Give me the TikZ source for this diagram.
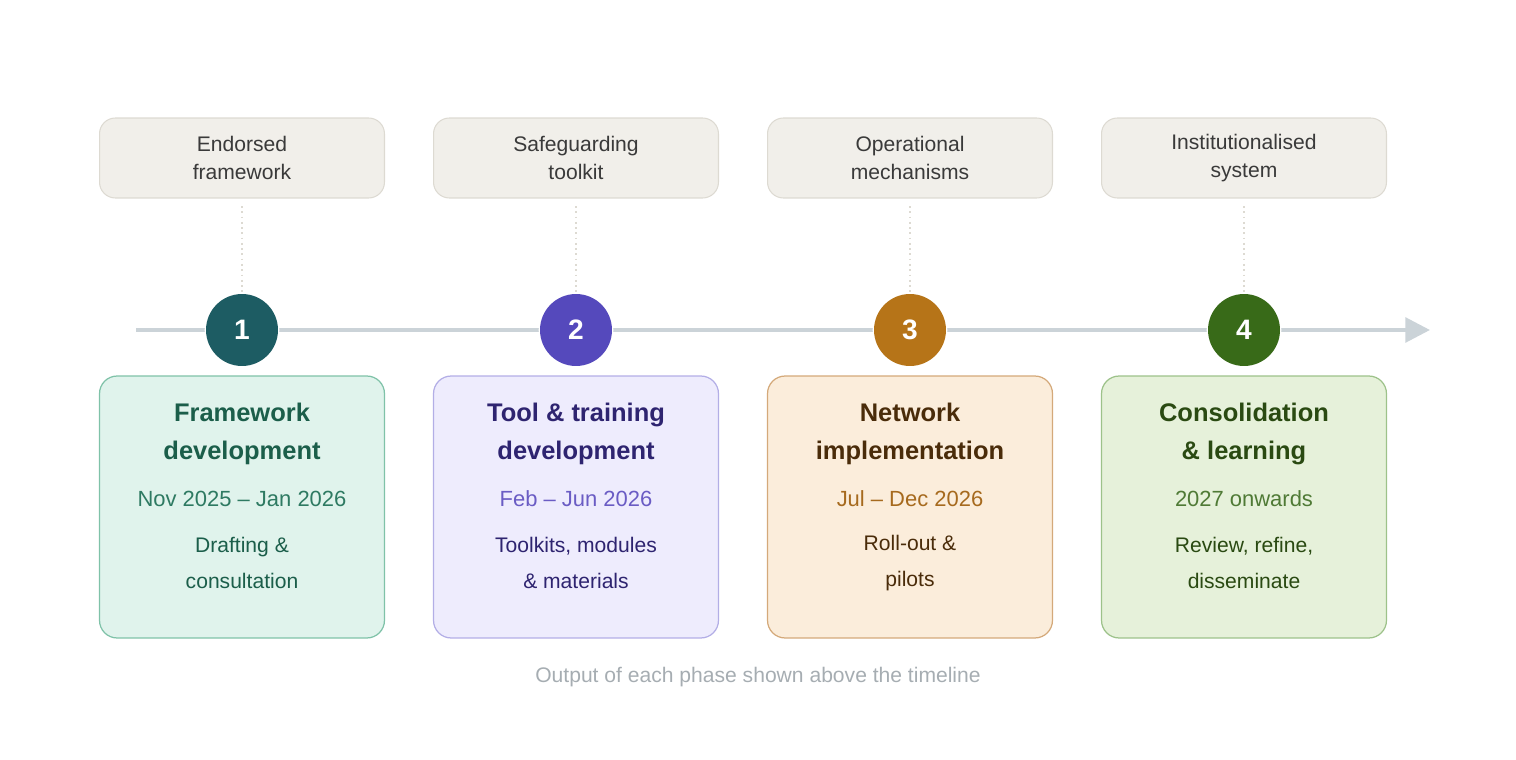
\documentclass[tikz,border=0pt]{standalone}
\usepackage{fontspec}
\setmainfont{Liberation Sans}
\usetikzlibrary{arrows.meta}
\definecolor{oF}{HTML}{F1EFEA}\definecolor{oD}{HTML}{DDDAD2}\definecolor{oT}{HTML}{3A3A3A}
\definecolor{tl}{HTML}{CBD3D8}\definecolor{ft}{HTML}{A6ADB2}
\definecolor{aF}{HTML}{E0F3EC}\definecolor{aD}{HTML}{7FC2A8}\definecolor{aT}{HTML}{1B5E4A}\definecolor{aS}{HTML}{2E7A62}\definecolor{aC}{HTML}{1D5C63}
\definecolor{bF}{HTML}{EEECFD}\definecolor{bD}{HTML}{B3AEE6}\definecolor{bT}{HTML}{2E2470}\definecolor{bS}{HTML}{6A5CC4}\definecolor{bC}{HTML}{5549BC}
\definecolor{cF}{HTML}{FBEDDB}\definecolor{cD}{HTML}{D4A97A}\definecolor{cT}{HTML}{4A2C0A}\definecolor{cS}{HTML}{A66A1E}\definecolor{cC}{HTML}{B67418}
\definecolor{dF}{HTML}{E6F1DA}\definecolor{dD}{HTML}{9DC28A}\definecolor{dT}{HTML}{2A4A12}\definecolor{dS}{HTML}{4F7A35}\definecolor{dC}{HTML}{386A18}
\tikzset{
 outbox/.style={draw=oD,fill=oF,rounded corners=9pt,minimum width=5.7cm,minimum height=1.6cm,text=oT,align=center,font=\fontsize{12}{16}\selectfont,line width=0.6pt},
 phase/.style={rounded corners=10pt,minimum width=5.7cm,minimum height=5.24cm,line width=0.7pt},
 num/.style={circle,minimum size=1.44cm,text=white,font=\fontsize{16}{18}\selectfont\bfseries,inner sep=0pt},
 conn/.style={draw=oD,line width=1pt,dotted},
}
\begin{document}
\begin{tikzpicture}[x=0.02cm,y=-0.02cm]
\useasboundingbox (0,0) rectangle (1516,760);
\coordinate (ts) at (136,330); \coordinate (te) at (1430,330);
\draw[tl,line width=2.2pt,-{Triangle[length=14pt,width=14pt]}] (ts)--(te);
\foreach \x/\k/\o/\t/\d/\s in {242/a/{Endorsed\\framework}/{Framework\\development}/{Nov 2025 – Jan 2026}/{Drafting \&\\consultation},
 576/b/{Safeguarding\\toolkit}/{Tool \& training\\development}/{Feb – Jun 2026}/{Toolkits, modules\\\& materials},
 910/c/{Operational\\mechanisms}/{Network\\implementation}/{Jul – Dec 2026}/{Roll-out \&\\pilots},
 1244/d/{Institutionalised\\system}/{Consolidation\\\& learning}/{2027 onwards}/{Review, refine,\\disseminate}}{
 \node[outbox] (o\k) at (\x,158) {\o};
 \node[num,fill=\k C,draw=white,line width=1.5pt] (n\k) at (\x,330) {};
 \node[phase,draw=\k D,fill=\k F] (p\k) at (\x,507) {};
 \draw[conn] ([yshift=-0.15cm]o\k.south)--(n\k.north);
 \node[text=\k T,align=center,font=\fontsize{14.5}{21.5}\selectfont\bfseries] at (\x,434) {\t};
 \node[text=\k S,font=\fontsize{12.5}{15}\selectfont] at (\x,499) {\d};
 \node[text=\k T,align=center,font=\fontsize{12}{20}\selectfont] at (\x,563) {\s};
}
\foreach \k/\n in {a/1,b/2,c/3,d/4} \node[num,fill=\k C] at (n\k) {\n};
\node[text=ft,font=\fontsize{12}{14}\selectfont] (f) at (758,677) {Output of each phase shown above the timeline};
\end{tikzpicture}
\end{document}
